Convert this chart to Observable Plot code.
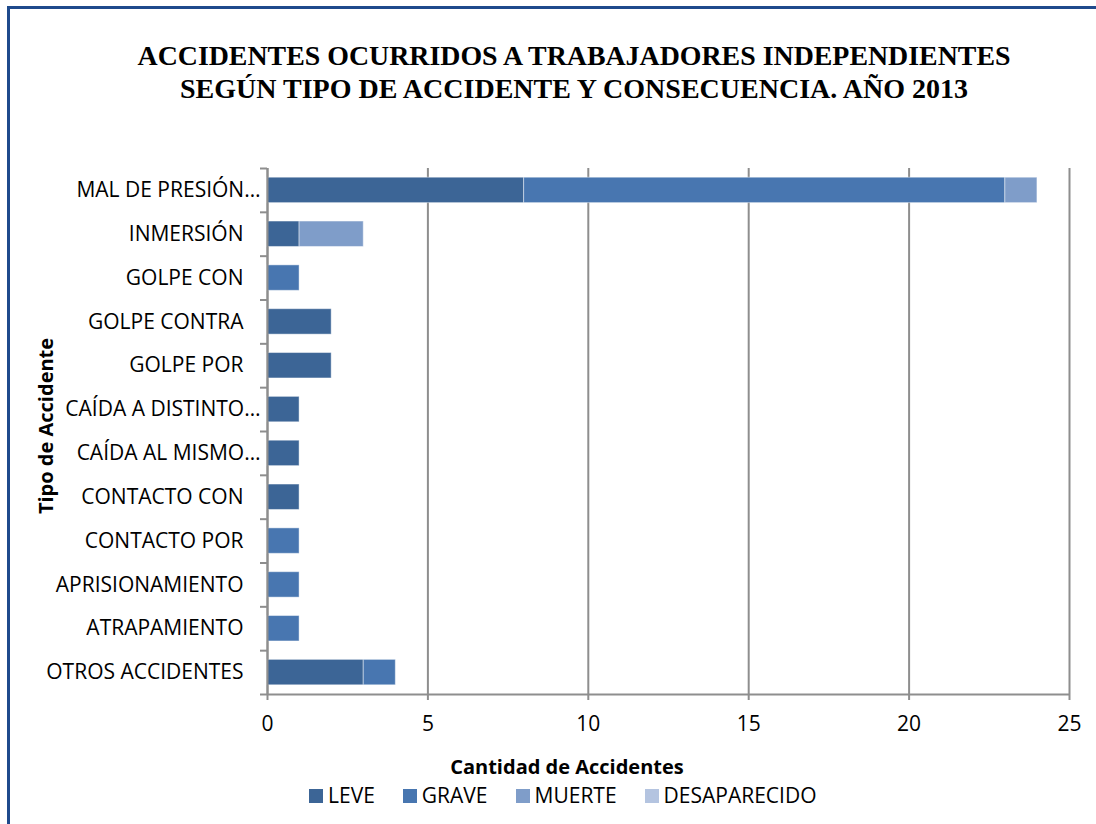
<!DOCTYPE html>
<html>
<head>
<meta charset="utf-8">
<script src="https://cdn.jsdelivr.net/npm/d3@7"></script>
<script src="https://cdn.jsdelivr.net/npm/@observablehq/plot@0.6"></script>
<style>
  html, body { margin: 0; padding: 0; background: #fff; }
  body { width: 1096px; height: 824px; overflow: hidden; position: relative; font-family: "Open Sans", sans-serif; }
  #frame { position: absolute; left: 7px; top: 6px; width: 1200px; height: 900px; border: 3px solid #1f4a8c; box-sizing: border-box; }
  #title { position: absolute; left: 0; top: 0; }
  #chart { position: absolute; left: 0; top: 140px; }
  #xtitle { position: absolute; left: 0; width: 1134px; top: 757px; line-height: 20px; text-align: center; font-weight: bold; font-size: 20px; color: #000; }
  #ytitle { position: absolute; left: 46px; top: 426px; transform: translate(-50%, -50%) rotate(-90deg); font-weight: bold; font-size: 20px; white-space: nowrap; line-height: 22px; }
  #legend { position: absolute; left: 309px; top: 785px; display: flex; align-items: center; font-size: 21px; line-height: 21px; white-space: nowrap; }
  .item { display: flex; align-items: center; margin-right: 28px; }
  .sw { width: 14px; height: 14px; margin-right: 5px; }
</style>
</head>
<body>
<div id="frame"></div>
<svg id="title" width="1096" height="120">
  <text x="574" y="65" text-anchor="middle" font-family="Liberation Serif" font-weight="bold" font-size="27" textLength="873" lengthAdjust="spacingAndGlyphs">ACCIDENTES OCURRIDOS A TRABAJADORES INDEPENDIENTES</text>
  <text x="574" y="98" text-anchor="middle" font-family="Liberation Serif" font-weight="bold" font-size="27" textLength="788" lengthAdjust="spacingAndGlyphs">SEGÚN TIPO DE ACCIDENTE Y CONSECUENCIA. AÑO 2013</text>
</svg>
<div id="chart"></div>
<div id="ytitle">Tipo de Accidente</div>
<div id="xtitle">Cantidad de Accidentes</div>
<div id="legend"></div>
<script>
const categories = ["MAL DE PRESIÓN…", "INMERSIÓN", "GOLPE CON", "GOLPE CONTRA", "GOLPE POR", "CAÍDA A DISTINTO…", "CAÍDA AL MISMO…", "CONTACTO CON", "CONTACTO POR", "APRISIONAMIENTO", "ATRAPAMIENTO", "OTROS ACCIDENTES"];
const series = ["LEVE", "GRAVE", "MUERTE", "DESAPARECIDO"];
const leve =         [8, 1, 0, 2, 2, 1, 1, 1, 0, 0, 0, 3];
const grave =        [15, 0, 1, 0, 0, 0, 0, 0, 1, 1, 1, 1];
const muerte =       [1, 2, 0, 0, 0, 0, 0, 0, 0, 0, 0, 0];
const desaparecido = [0, 0, 0, 0, 0, 0, 0, 0, 0, 0, 0, 0];
const colors = ["#3c6596", "#4876b0", "#7f9dc9", "#b4c4e0"];
const xTicks = [0, 5, 10, 15, 20, 25];

const valuesBySeries = [leve, grave, muerte, desaparecido];
const data = [];
categories.forEach((c, i) => {
  series.forEach((s, j) => {
    data.push({category: c, series: s, value: valuesBySeries[j][i]});
  });
});

const truncated = categories.filter(c => c.endsWith("…"));
const full = categories.filter(c => !c.endsWith("…"));

const W = 1096, H = 610, mTop = 28, mBottom = 56, mLeft = 267, mRight = 27;
const padIn = 0.42, padOut = 0.21;

function build(step) {
  const half = step / 2;
  return Plot.plot({
    width: W, height: H,
    marginTop: mTop, marginBottom: mBottom, marginLeft: mLeft, marginRight: mRight,
    style: {fontFamily: "Open Sans", fontSize: "21px", color: "#000", background: "transparent"},
    x: {domain: [0, 25], ticks: xTicks, label: null},
    y: {domain: categories, paddingInner: padIn, paddingOuter: padOut, round: false, label: null},
    color: {domain: series, range: colors},
    marks: [
      Plot.gridX(xTicks, {stroke: "#8e8e8e", strokeOpacity: 1, strokeWidth: 2}),
      Plot.barX(data, Plot.stackX({x: "value", y: "category", fill: "series", order: series, stroke: "#ffffff", strokeOpacity: 0.45, strokeWidth: 1})),
      Plot.ruleX([0], {stroke: "#8e8e8e", strokeWidth: 2}),
      Plot.ruleY([categories[categories.length - 1]], {dy: half, stroke: "#8e8e8e", strokeWidth: 2}),
      Plot.axisY({ticks: full, tickSize: 0, tickPadding: 24, fontSize: 21}),
      Plot.axisY({ticks: truncated, tickSize: 0, tickPadding: 7, fontSize: 21}),
      Plot.axisY({tickSize: 7, stroke: "#8e8e8e", strokeWidth: 2, tickFormat: () => "", dy: -half}),
      Plot.axisY({ticks: [categories[categories.length - 1]], tickSize: 7, stroke: "#8e8e8e", strokeWidth: 2, tickFormat: () => "", dy: half}),
      Plot.axisX({ticks: xTicks, tickSize: 6, tickPadding: 16, stroke: "#8e8e8e", strokeWidth: 2, fontSize: 21})
    ]
  });
}

const probe = build(0);
const step = probe.scale("y").step;
const chart = build(step);
document.getElementById("chart").appendChild(chart);

const legend = document.getElementById("legend");
series.forEach((s, i) => {
  const it = document.createElement("div");
  it.className = "item";
  const sw = document.createElement("div");
  sw.className = "sw";
  sw.style.background = colors[i];
  const tx = document.createElement("span");
  tx.textContent = s;
  it.appendChild(sw); it.appendChild(tx);
  legend.appendChild(it);
});
</script>
</body>
</html>
